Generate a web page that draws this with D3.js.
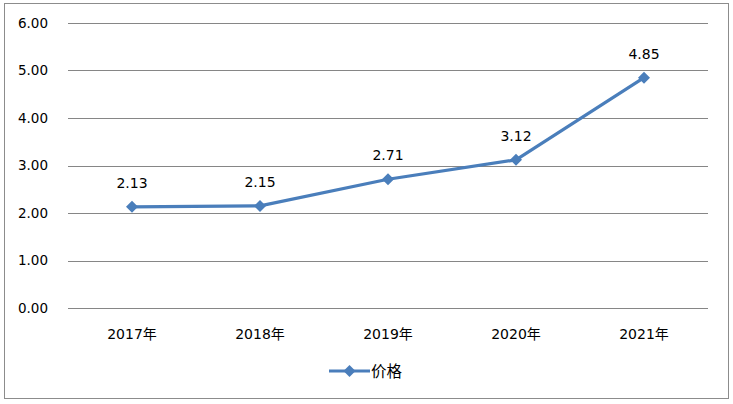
<!DOCTYPE html>
<html><head><meta charset="utf-8">
<script src="https://cdn.jsdelivr.net/npm/d3@7"></script>
<style>
html,body{margin:0;padding:0;background:#fff;}
svg{display:block;}
text{font-family:"DejaVu Sans","Noto Sans CJK SC",sans-serif;font-size:13.5px;fill:#000;}
</style></head>
<body><svg id="c" width="733" height="404"></svg>
<script>
const categories = ["2017年","2018年","2019年","2020年","2021年"];
const values = [2.13, 2.15, 2.71, 3.12, 4.85];
const valueLabels = ["2.13","2.15","2.71","3.12","4.85"];
const yTicks = [0,1,2,3,4,5,6];
const seriesName = "价格";

const svg = d3.select("#c");
const color = "#4A7EBB";
svg.append("rect").attr("x",4.5).attr("y",3.5).attr("width",724).attr("height",395)
  .attr("fill","#fff").attr("stroke","#8c8c8c").attr("stroke-width",1);

const x = d3.scaleBand().domain(categories).range([68,708]);
const y = d3.scaleLinear().domain([0,6]).range([308,23]);

const g = svg.append("g");
g.selectAll("line.grid").data(yTicks).join("line")
  .attr("x1",68).attr("x2",708)
  .attr("y1",d=>Math.round(y(d))+0.5).attr("y2",d=>Math.round(y(d))+0.5)
  .attr("stroke","#868686").attr("stroke-width",1);

g.selectAll("text.yl").data(yTicks).join("text")
  .attr("x",48).attr("y",d=>y(d)).attr("dy","0.35em").attr("text-anchor","end")
  .text(d=>d3.format(".2f")(d));

g.selectAll("text.xl").data(categories).join("text")
  .attr("x",d=>x(d)+x.bandwidth()/2).attr("y",339).attr("text-anchor","middle")
  .style("font-size","14px")
  .text(d=>d);

const line = d3.line().x((d,i)=>x(categories[i])+x.bandwidth()/2).y(d=>y(d));
g.append("path").datum(values).attr("d",line).attr("fill","none")
  .attr("stroke",color).attr("stroke-width",3.2).attr("stroke-linejoin","round");

const diamond = "M0,-6L6,0L0,6L-6,0Z";
g.selectAll("path.pt").data(values).join("path")
  .attr("transform",(d,i)=>`translate(${x(categories[i])+x.bandwidth()/2},${y(d)})`)
  .attr("d",diamond).attr("fill",color);

g.selectAll("text.vl").data(values).join("text")
  .attr("x",(d,i)=>x(categories[i])+x.bandwidth()/2).attr("y",d=>y(d)-19)
  .attr("text-anchor","middle").style("font-size","14px").text((d,i)=>valueLabels[i]);

// legend
const lg = svg.append("g");
lg.append("line").attr("x1",329).attr("x2",370).attr("y1",371).attr("y2",371)
  .attr("stroke",color).attr("stroke-width",3.2);
lg.append("path").attr("transform","translate(349.5,371)").attr("d",diamond).attr("fill",color);
lg.append("text").attr("x",371).attr("y",371).attr("dy","0.38em").style("font-size","15.5px").text(seriesName);
</script></body></html>
